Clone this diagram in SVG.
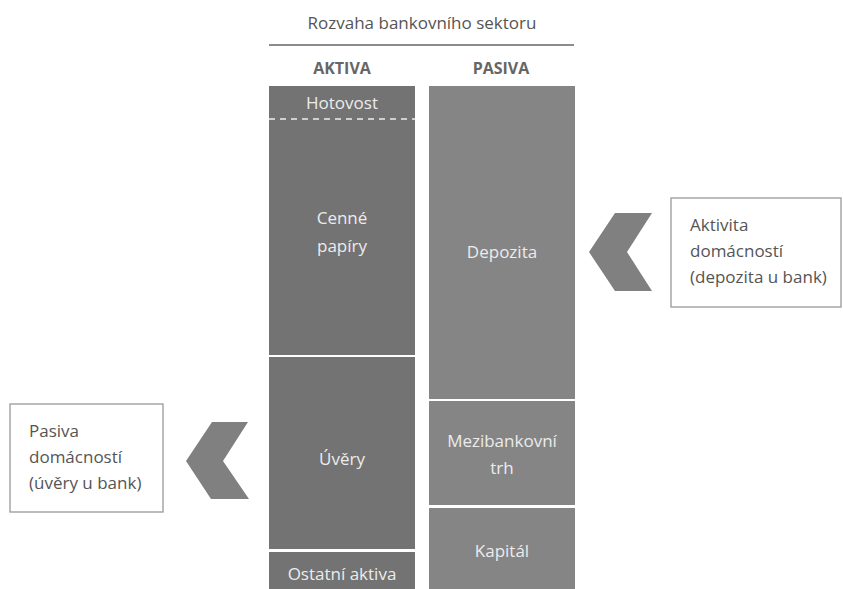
<svg xmlns="http://www.w3.org/2000/svg" width="843" height="589" viewBox="0 0 843 589">
<style>
text{font-family:"Open Sans","Noto Sans","Liberation Sans",sans-serif;font-size:17px}
.t{fill:#555}
.h{fill:#666;font-weight:bold;text-anchor:middle;font-size:16px}
.l{fill:#ececec;text-anchor:middle}
.a{fill:#737373}
.p{fill:#858585}
.box{fill:#fff;stroke:#999;stroke-width:1.3}
.chev{fill:#808080}
</style>
<rect width="843" height="589" fill="#fff"/>
<g id="header">
<text class="t" x="422" y="29" text-anchor="middle">Rozvaha bankovního sektoru</text>
<line x1="269" y1="45" x2="574" y2="45" stroke="#666" stroke-width="1.3"/>
<text class="h" x="342" y="74">AKTIVA</text>
<text class="h" x="501" y="74">PASIVA</text>
</g>
<g id="hotovost">
<rect class="a" x="269" y="86" width="146" height="33"/>
<text class="l" x="342" y="109">Hotovost</text>
</g>
<g id="cenne-papiry">
<rect class="a" x="269" y="119" width="146" height="236"/>
<line x1="269" y1="119" x2="415" y2="119" stroke="#eee" stroke-width="1.3" stroke-dasharray="6,5"/>
<text class="l" x="342" y="224">Cenné</text>
<text class="l" x="342" y="252">papíry</text>
</g>
<g id="uvery">
<rect class="a" x="269" y="357" width="146" height="192"/>
<text class="l" x="342" y="465">Úvěry</text>
</g>
<g id="ostatni-aktiva">
<rect class="a" x="269" y="552" width="146" height="37"/>
<text class="l" x="342" y="580">Ostatní aktiva</text>
</g>
<g id="depozita">
<rect class="p" x="429" y="86" width="146" height="313"/>
<text class="l" x="502" y="258">Depozita</text>
</g>
<g id="mezibankovni-trh">
<rect class="p" x="429" y="401" width="146" height="104"/>
<text class="l" x="502" y="447">Mezibankovní</text>
<text class="l" x="502" y="474">trh</text>
</g>
<g id="kapital">
<rect class="p" x="429" y="508" width="146" height="81"/>
<text class="l" x="502" y="557">Kapitál</text>
</g>
<g id="aktivita-domacnosti">
<rect class="box" x="671" y="198" width="170" height="109"/>
<text class="t" x="690" y="231">Aktivita</text>
<text class="t" x="690" y="257">domácností</text>
<text class="t" x="690" y="283">(depozita u bank)</text>
</g>
<g id="pasiva-domacnosti">
<rect class="box" x="10" y="404" width="153" height="108"/>
<text class="t" x="29" y="437">Pasiva</text>
<text class="t" x="29" y="463">domácností</text>
<text class="t" x="29" y="489">(úvěry u bank)</text>
</g>
<g id="connectors">
<polygon class="chev" points="615,213 652,213 627,252 652,291 615,291 589,252"/>
<polygon class="chev" points="212,422 248,422 223,461 249,499 211,499 186,461"/>
</g>
</svg>
